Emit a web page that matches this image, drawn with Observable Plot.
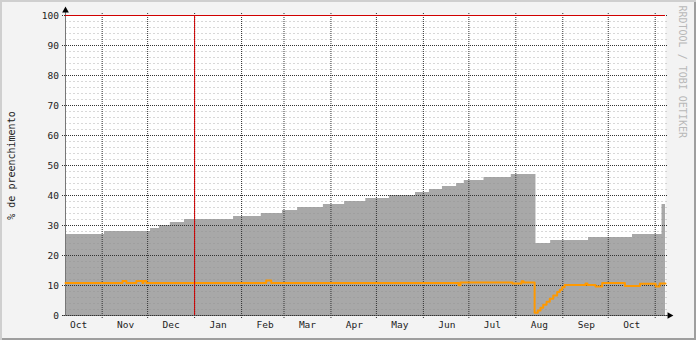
<!DOCTYPE html>
<html><head><meta charset="utf-8">
<script src="https://cdn.jsdelivr.net/npm/d3@7"></script>
<script src="https://cdn.jsdelivr.net/npm/@observablehq/plot@0.6"></script>
<style>
html,body{margin:0;padding:0;background:#f3f3f3;}
#chart{width:696px;height:340px;position:relative;background:#f3f3f3;box-shadow:inset 2px 2px 0 #cfcfcf, inset -2px -2px 0 #9e9e9e;}
#chart svg{display:block;}
</style></head><body><div id="chart"></div>
<script>
// ---- data ----
const startDate = "2013-10-07T19:00Z";
const endDate = "2014-11-07T19:00Z";

const fillDates = ["2013-10-07T19:00Z","2013-11-02T12:00Z","2013-12-02T22:00Z","2013-12-08T19:00Z","2013-12-16T00:00Z","2013-12-25T07:00Z","2014-01-26T17:00Z","2014-02-14T00:00Z","2014-02-28T00:00Z","2014-03-10T00:00Z","2014-03-27T00:00Z","2014-04-10T00:00Z","2014-04-24T00:00Z","2014-05-09T14:00Z","2014-05-26T19:00Z","2014-06-05T00:00Z","2014-06-13T14:00Z","2014-06-22T22:00Z","2014-06-28T00:00Z","2014-07-11T00:00Z","2014-07-29T00:00Z","2014-08-14T07:00Z","2014-08-24T00:00Z","2014-09-18T00:00Z","2014-10-17T00:00Z","2014-11-05T12:00Z"];
const fillValues = [27,28,29,30,31,32,33,34,35,36,37,38,39,40,41,42,43,44,45,46,47,24,25,26,27,37];

const lineDates = ["2013-10-07T19:00Z","2013-11-14T10:00Z","2013-11-17T00:00Z","2013-11-23T14:00Z","2013-11-27T14:00Z","2013-11-28T07:00Z","2013-11-30T05:00Z","2014-02-17T07:00Z","2014-02-20T14:00Z","2014-06-24T05:00Z","2014-06-25T12:00Z","2014-07-29T19:00Z","2014-08-04T19:00Z","2014-08-06T02:00Z","2014-08-13T10:00Z","2014-08-15T12:00Z","2014-08-17T07:00Z","2014-08-19T02:00Z","2014-08-21T07:00Z","2014-08-23T10:00Z","2014-08-25T17:00Z","2014-08-28T07:00Z","2014-08-30T00:00Z","2014-08-31T14:00Z","2014-09-02T05:00Z","2014-09-16T00:00Z","2014-09-17T07:00Z","2014-09-22T14:00Z","2014-09-27T00:00Z","2014-10-12T00:00Z","2014-10-21T22:00Z","2014-11-01T07:00Z","2014-11-03T22:00Z"];
const lineValues = [10.8,11.5,10.8,11.5,10.8,11.5,10.8,11.7,10.8,10.1,11.0,10.7,11.4,11.0,0.9,1.7,2.6,3.6,4.6,5.6,6.7,7.8,8.6,9.4,10.2,10.7,10.2,9.7,10.8,9.8,10.6,9.7,10.7];

const yTicks = [0,10,20,30,40,50,60,70,80,90,100];
const monthNames = ["Oct","Nov","Dec","Jan","Feb","Mar","Apr","May","Jun","Jul","Aug","Sep","Oct"];
const hrules = [100];
const vrules = ["2014-01-01T00:00Z"];
const yTitle = "% de preenchimento";
const watermark = "RRDTOOL / TOBI OETIKER";

// ---- build ----
const x0 = new Date(startDate), x1 = new Date(endDate);
const fill = fillDates.map((d, i) => ({date: new Date(d), value: fillValues[i]}));
fill.push({date: x1, value: fillValues[fillValues.length - 1]});
const line = lineDates.map((d, i) => ({date: new Date(d), value: lineValues[i]}));
line.push({date: x1, value: lineValues[lineValues.length - 1]});

const minor = d3.range(2, 100, 2).filter(v => v % 10 !== 0);
const monthStarts = d3.utcMonth.range(d3.utcMonth.ceil(x0), x1);
const midMonths = d3.utcMonth.range(d3.utcMonth.floor(x0), x1).map(m => d3.utcHour.offset(m, 372));

const plot = Plot.plot({
  width: 696, height: 340,
  marginTop: 15, marginRight: 31, marginBottom: 25, marginLeft: 65,
  x: {type: "utc", domain: [x0, x1], axis: null},
  y: {domain: [0, 100], axis: null},
  style: {background: "transparent", fontFamily: "'DejaVu Sans Mono', monospace", fontSize: "9.5px", color: "#222", overflow: "visible"},
  marks: [
    Plot.frame({fill: "white", stroke: null}),
    Plot.areaY(fill, {x: "date", y: "value", curve: "step-after", fill: "#a8a8a8"}),
    Plot.ruleY(minor, {stroke: "#909090", strokeOpacity: 0.35, strokeDasharray: "2,2", insetRight: -2}),
    Plot.ruleX([x0], {stroke: "#777", insetTop: -4}),
    Plot.ruleY([0], {stroke: "#777", insetRight: -4, insetLeft: -3}),
    Plot.ruleX(monthStarts, {stroke: "#333", strokeDasharray: "1,1", insetTop: -2, insetBottom: -3}),
    Plot.ruleY(yTicks, {stroke: "#333", strokeDasharray: "1,1", insetLeft: -3, insetRight: -3}),
    Plot.line(line, {x: "date", y: "value", curve: "step-after", stroke: "#ff9900", strokeWidth: 2}),
    Plot.ruleY(hrules, {stroke: "#d00000"}),
    Plot.ruleX(vrules.map(d => new Date(d)), {stroke: "#d00000"}),
    Plot.dot([0], {x: () => x0, y: () => 100, symbol: "triangle", r: 2.5, fill: "black", stroke: null, dy: -5}),
    Plot.dot([0], {x: () => x1, y: () => 0, symbol: "triangle", r: 2.5, fill: "black", stroke: null, rotate: 90, dx: 4}),
    Plot.text(yTicks, {y: d => d, text: d => String(d), frameAnchor: "left", textAnchor: "end", dx: -6.5, fill: "#222"}),
    Plot.text(monthNames, {x: (d, i) => midMonths[i], text: d => d, frameAnchor: "bottom", lineAnchor: "top", dy: 6, fill: "#222"}),
    Plot.text([yTitle], {text: d => d, frameAnchor: "left", textAnchor: "middle", rotate: -90, dx: -54, fontSize: 10, fill: "#222"}),
    Plot.text([watermark], {text: d => d, frameAnchor: "top-right", rotate: 90, textAnchor: "start", dx: 21, dy: -10, fontSize: 10, fill: "#b8b8b8"})
  ]
});
document.getElementById("chart").appendChild(plot);
</script>
</body></html>
